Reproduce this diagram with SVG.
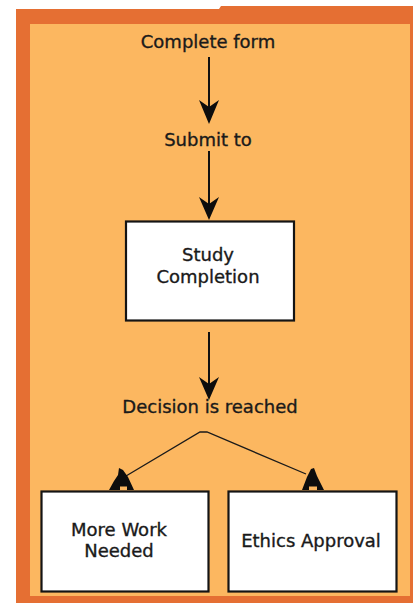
<svg xmlns="http://www.w3.org/2000/svg" width="413" height="603" viewBox="0 0 413 603">
  <defs>
    <style>
      .lbl { font-family: "DejaVu Sans", "Liberation Sans", sans-serif; font-size: 18px; fill: #1a1a1a; stroke: #1a1a1a; stroke-width: 0.35; text-anchor: middle; }
      .box { fill: #ffffff; stroke: #141414; stroke-width: 2.2; }
      .main { stroke: #111111; stroke-width: 2; fill: none; }
      .thin { stroke: #1a1a1a; stroke-width: 1.3; fill: none; }
      .head { fill: #0d0d0d; }
    </style>
  </defs>

  <g id="frame">
    <polygon points="16,9 219,9 221,6 413,6 413,603 16,603" fill="#E56F33"/>
    <rect x="30" y="24" width="380" height="572" fill="#FCB760"/>
  </g>

  <g id="connectors">
    <line class="main" x1="209" y1="57" x2="209" y2="108"/>
    <path class="head" d="M199,100 L209,107 L219,100 L209,124 Z"/>
    <line class="main" x1="209" y1="151" x2="209" y2="204"/>
    <path class="head" d="M199,197 L209,204 L219,197 L209,220 Z"/>
    <line class="main" x1="209" y1="332" x2="209" y2="384"/>
    <path class="head" d="M199,377 L209,384 L219,377 L209,400 Z"/>
    <polyline class="thin" points="126,476 200,432 207,432 306,474"/>
    <path class="head" d="M109,490 L114,481 L118,475 L119,468 L123,470 L128,477 L134,490 Z"/>
    <rect x="120" y="486.5" width="7" height="3.5" fill="#FCB760"/>
    <path class="head" d="M302,490 L307,477 L311,469 L314,468 L317,476 L324,490 Z"/>
    <rect x="309" y="486.5" width="8" height="3.5" fill="#FCB760"/>
  </g>

  <g id="complete-form">
    <text class="lbl" x="208" y="48">Complete form</text>
  </g>
  <g id="submit-to">
    <text class="lbl" x="208" y="146">Submit to</text>
  </g>
  <g id="study-completion">
    <rect class="box" x="126" y="221.5" width="168" height="99"/>
    <text class="lbl" x="208" y="261">Study</text>
    <text class="lbl" x="208" y="283">Completion</text>
  </g>
  <g id="decision">
    <text class="lbl" x="210" y="413">Decision is reached</text>
  </g>
  <g id="more-work">
    <rect class="box" x="41.5" y="491.5" width="167" height="100"/>
    <text class="lbl" x="119" y="536">More Work</text>
    <text class="lbl" x="119" y="557">Needed</text>
  </g>
  <g id="ethics-approval">
    <rect class="box" x="228.5" y="491.5" width="168" height="100"/>
    <text class="lbl" x="311" y="547">Ethics Approval</text>
  </g>
</svg>
